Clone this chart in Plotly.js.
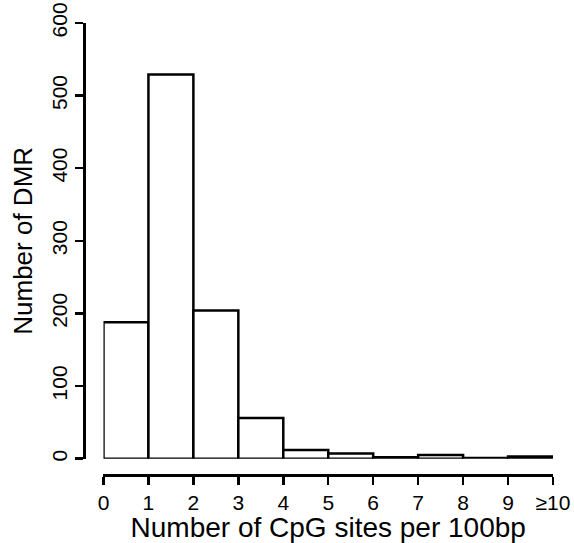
<!DOCTYPE html>
<html>
<head>
<meta charset="utf-8">
<script src="https://cdn.plot.ly/plotly-3.0.1.min.js"></script>
<style>
  html, body { margin: 0; padding: 0; background: #ffffff; }
  #chart { width: 574px; height: 543px; }
</style>
</head>
<body>
<div id="chart"></div>
<script>
// CpG density bins (sites per 100bp) and DMR counts per bin
const binStarts = [0, 1, 2, 3, 4, 5, 6, 7, 8, 9];
const dmrCounts = [188, 529, 204, 56, 12, 7, 2, 5, 1, 3];
const xTickVals = [0, 1, 2, 3, 4, 5, 6, 7, 8, 9, 10];
const xTickText = ["0", "1", "2", "3", "4", "5", "6", "7", "8", "9", "\u226510"];
const yTickVals = [0, 100, 200, 300, 400, 500, 600];

const W = 574, H = 543;
const ml = 84, mr = 20.5, mt = 23.3, mb = 68;
const plotW = W - ml - mr, plotH = H - mt - mb;
// the x axis sits detached below the bars, the y axis detached left of them
const xStart = (103.5 - ml) / plotW;
const yStart = (475 - 458.7) / plotH;

const font = { family: "Liberation Sans, Arial, sans-serif", color: "#000000" };

const trace = {
  type: "bar",
  x: binStarts.map(b => b + 0.5),
  y: dmrCounts,
  width: 1,
  marker: { color: "#ffffff", line: { color: "#000000", width: 2.5 } },
  cliponaxis: false,
  hoverinfo: "skip"
};

const layout = {
  width: W, height: H,
  margin: { l: ml, r: mr, t: mt, b: mb, pad: 0 },
  paper_bgcolor: "#ffffff",
  plot_bgcolor: "#ffffff",
  showlegend: false,
  font: Object.assign({ size: 20 }, font),
  bargap: 0,
  xaxis: {
    domain: [xStart, 1],
    range: [0, 10],
    anchor: "free",
    position: 0,
    showgrid: false, zeroline: false,
    showline: true, linecolor: "#000000", linewidth: 2.5,
    ticks: "outside", ticklen: 8, tickwidth: 2.5, tickcolor: "#000000",
    tickmode: "array", tickvals: xTickVals, ticktext: xTickText,
    tickfont: Object.assign({ size: 21 }, font),
    title: { text: "Number of CpG sites per 100bp", font: Object.assign({ size: 28 }, font), standoff: 4 }
  },
  yaxis: {
    domain: [yStart, 1],
    range: [0, 600],
    anchor: "free",
    position: 0,
    showgrid: false, zeroline: false,
    showline: true, linecolor: "#000000", linewidth: 2.5,
    ticks: "outside", ticklen: 8, tickwidth: 2.5, tickcolor: "#000000",
    tickmode: "array", tickvals: yTickVals,
    tickangle: -90,
    tickfont: Object.assign({ size: 21 }, font),
    title: { text: "Number of DMR", font: Object.assign({ size: 26 }, font), standoff: 6 }
  }
};

Plotly.newPlot("chart", [trace], layout, { staticPlot: true, displayModeBar: false });
</script>
</body>
</html>
